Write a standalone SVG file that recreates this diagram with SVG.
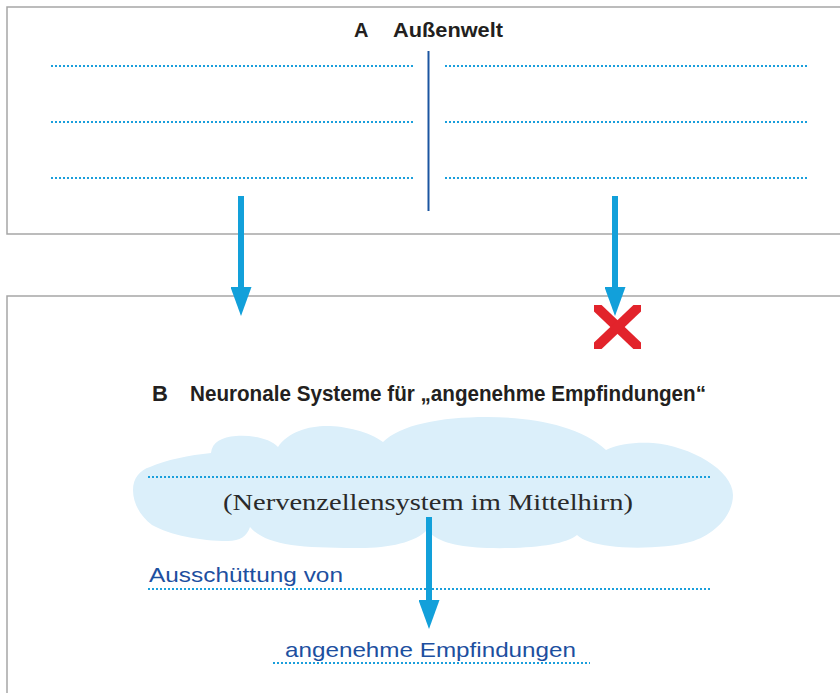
<svg xmlns="http://www.w3.org/2000/svg" width="840" height="693" viewBox="0 0 840 693">
<defs>
<style>
.frame{fill:none;stroke:#a6a6a6;stroke-width:1.5}
.dot{fill:none;stroke:#1a9fdc;stroke-width:2.2;stroke-dasharray:2 2}
.conn{fill:none;stroke:#12a0da;stroke-width:6}
.title{font-family:"Liberation Sans",Arial,sans-serif;font-weight:bold;fill:#231f20}
.serif{font-family:"Liberation Serif","DejaVu Serif",serif;font-size:24px;fill:#2a2a2a}
.hand{font-family:"Liberation Sans Narrow","Liberation Sans",sans-serif;font-size:21px;fill:#1d4f9f}
</style>
<marker id="head" viewBox="0 0 29 21" markerWidth="29" markerHeight="21" refX="1" refY="10.5" orient="auto" markerUnits="userSpaceOnUse">
<path d="M0,0 L29,10.5 L0,21 Z" fill="#12a0da"/>
</marker>
<clipPath id="xclip"><rect x="594" y="305" width="47" height="44"/></clipPath>
</defs>
<rect width="840" height="693" fill="#fff"/>

<g id="boxA">
<rect class="frame" x="7" y="7" width="845" height="227"/>
<text class="title" x="354" y="37" font-size="20">A</text>
<text class="title" x="393" y="37" font-size="20" textLength="110" lengthAdjust="spacingAndGlyphs">Außenwelt</text>
<line class="dot" x1="51" y1="66" x2="415" y2="66"/>
<line class="dot" x1="51" y1="122" x2="415" y2="122"/>
<line class="dot" x1="51" y1="178" x2="415" y2="178"/>
<line class="dot" x1="445" y1="66" x2="809" y2="66"/>
<line class="dot" x1="445" y1="122" x2="809" y2="122"/>
<line class="dot" x1="445" y1="178" x2="809" y2="178"/>
<line x1="428.5" y1="51" x2="428.5" y2="211" stroke="#1b55a0" stroke-width="2"/>
</g>

<g id="boxB">
<path class="frame" d="M845,296 H7 V700"/>
<text class="title" x="152" y="401" font-size="22">B</text>
<text class="title" x="190" y="401" font-size="22" textLength="516" lengthAdjust="spacingAndGlyphs">Neuronale Systeme für „angenehme Empfindungen“</text>
</g>

<g id="block">
<g clip-path="url(#xclip)" stroke="#e2232b" stroke-width="10">
<line x1="588" y1="299" x2="647" y2="355"/>
<line x1="647" y1="299" x2="588" y2="355"/>
</g>
</g>

<g id="cloud">
<path fill="#dbeffa" d="M133,490 C133,478 140,470 150,467 C165,460 190,455 211,453 C212,442 222,437 236,436 C252,435 270,438 278,447 C288,432 308,426 327,426 C345,426 370,432 383,442 C400,425 440,417 487,417 C530,417 580,425 606,450 C618,444 635,442 653,443 C690,446 733,470 733,495 C733,515 715,535 690,542 C670,548 630,549 610,546 C595,544 583,541 577,535 C565,545 530,549 487,548 C460,547 438,543 427,530 C415,543 385,549 353,548 C300,548 265,545 250,527 C247,536 240,541 228,541 C200,541 170,535 152,525 C140,516 133,503 133,490 Z"/>
<line class="dot" x1="148" y1="477" x2="710" y2="477"/>
<text class="serif" x="223" y="510" textLength="410" lengthAdjust="spacingAndGlyphs">(Nervenzellensystem im Mittelhirn)</text>
</g>

<g id="release">
<text class="hand" x="149" y="582" textLength="194" lengthAdjust="spacingAndGlyphs">Ausschüttung von</text>
<line class="dot" x1="148" y1="589" x2="710" y2="589"/>
</g>

<g id="feeling">
<text class="hand" x="285" y="657" textLength="291" lengthAdjust="spacingAndGlyphs">angenehme Empfindungen</text>
<line class="dot" x1="273" y1="663" x2="590" y2="663"/>
</g>

<g id="connectors">
<line class="conn" x1="241" y1="196" x2="241" y2="288" marker-end="url(#head)"/>
<line class="conn" x1="615" y1="196" x2="615" y2="288" marker-end="url(#head)"/>
<line class="conn" x1="429" y1="517" x2="429" y2="601" marker-end="url(#head)"/>
</g>
</svg>
